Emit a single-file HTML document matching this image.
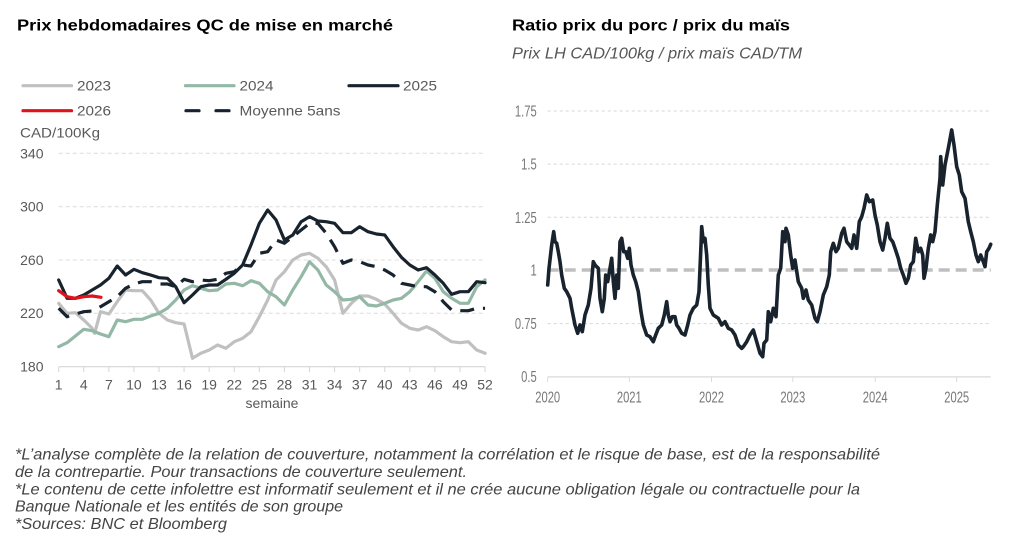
<!DOCTYPE html>
<html><head><meta charset="utf-8"><style>
html,body{margin:0;padding:0;background:#fff;}
svg{display:block;}
text{font-family:"Liberation Sans",Arial,sans-serif;}
</style></head><body>
<svg width="1024" height="560" viewBox="0 0 1024 560" xmlns="http://www.w3.org/2000/svg">
<rect width="1024" height="560" fill="#fff"/>
<!-- Titles -->
<text x="17" y="30.7" font-size="16" font-weight="bold" fill="#000" textLength="376" lengthAdjust="spacingAndGlyphs">Prix hebdomadaires QC de mise en marché</text>
<text x="512" y="30.7" font-size="16" font-weight="bold" fill="#000" textLength="278" lengthAdjust="spacingAndGlyphs">Ratio prix du porc / prix du maïs</text>
<text x="512" y="58.3" font-size="15.5" font-style="italic" fill="#555" textLength="290" lengthAdjust="spacingAndGlyphs">Prix LH CAD/100kg / prix maïs CAD/TM</text>

<!-- Legend -->
<g stroke-width="3.2" stroke-linecap="round">
<line x1="23" y1="85.7" x2="71.5" y2="85.7" stroke="#c0c0c0"/>
<line x1="185.5" y1="85.7" x2="234" y2="85.7" stroke="#94b8a6"/>
<line x1="349" y1="85.7" x2="398" y2="85.7" stroke="#18232e"/>
<line x1="23" y1="110.7" x2="71.5" y2="110.7" stroke="#e0121b"/>
<line x1="186" y1="110.7" x2="199" y2="110.7" stroke="#18232e"/>
<line x1="216" y1="110.7" x2="229" y2="110.7" stroke="#18232e"/>
</g>
<g font-size="14" fill="#595959">
<text x="77" y="90.7" textLength="34" lengthAdjust="spacingAndGlyphs">2023</text>
<text x="239.5" y="90.7" textLength="34" lengthAdjust="spacingAndGlyphs">2024</text>
<text x="403" y="90.7" textLength="34" lengthAdjust="spacingAndGlyphs">2025</text>
<text x="77" y="115.7" textLength="34" lengthAdjust="spacingAndGlyphs">2026</text>
<text x="239.5" y="115.7" textLength="101" lengthAdjust="spacingAndGlyphs">Moyenne 5ans</text>
<text x="20" y="137.5" textLength="80" lengthAdjust="spacingAndGlyphs">CAD/100Kg</text>
</g>

<!-- Left chart grid -->
<g stroke="#dcdcdc" stroke-width="1" stroke-dasharray="4 3">
<line x1="58.7" y1="153.3" x2="485" y2="153.3"/>
<line x1="58.7" y1="206.7" x2="485" y2="206.7"/>
<line x1="58.7" y1="260" x2="485" y2="260"/>
<line x1="58.7" y1="313.3" x2="485" y2="313.3"/>
</g>
<line x1="58.7" y1="366.7" x2="485" y2="366.7" stroke="#d6d6d6" stroke-width="1.2"/>
<g stroke="#d6d6d6" stroke-width="1">
<line x1="58.7" y1="366.7" x2="58.7" y2="372"/><line x1="83.78" y1="366.7" x2="83.78" y2="372"/><line x1="108.86" y1="366.7" x2="108.86" y2="372"/><line x1="133.94" y1="366.7" x2="133.94" y2="372"/><line x1="159.02" y1="366.7" x2="159.02" y2="372"/><line x1="184.1" y1="366.7" x2="184.1" y2="372"/><line x1="209.18" y1="366.7" x2="209.18" y2="372"/><line x1="234.26" y1="366.7" x2="234.26" y2="372"/><line x1="259.34" y1="366.7" x2="259.34" y2="372"/><line x1="284.42" y1="366.7" x2="284.42" y2="372"/><line x1="309.5" y1="366.7" x2="309.5" y2="372"/><line x1="334.58" y1="366.7" x2="334.58" y2="372"/><line x1="359.66" y1="366.7" x2="359.66" y2="372"/><line x1="384.74" y1="366.7" x2="384.74" y2="372"/><line x1="409.82" y1="366.7" x2="409.82" y2="372"/><line x1="434.9" y1="366.7" x2="434.9" y2="372"/><line x1="459.98" y1="366.7" x2="459.98" y2="372"/><line x1="485.06" y1="366.7" x2="485.06" y2="372"/>
</g>
<g font-size="14" fill="#595959" text-anchor="end">
<text x="43.5" y="158.3">340</text>
<text x="43.5" y="211.5">300</text>
<text x="43.5" y="264.8">260</text>
<text x="43.5" y="318.2">220</text>
<text x="43.5" y="371.5">180</text>
</g>
<g font-size="14" fill="#595959" text-anchor="middle">
<text x="58.7" y="389.5">1</text><text x="83.78" y="389.5">4</text><text x="108.86" y="389.5">7</text><text x="133.94" y="389.5">10</text><text x="159.02" y="389.5">13</text><text x="184.1" y="389.5">16</text><text x="209.18" y="389.5">19</text><text x="234.26" y="389.5">22</text><text x="259.34" y="389.5">25</text><text x="284.42" y="389.5">28</text><text x="309.5" y="389.5">31</text><text x="334.58" y="389.5">34</text><text x="359.66" y="389.5">37</text><text x="384.74" y="389.5">40</text><text x="409.82" y="389.5">43</text><text x="434.9" y="389.5">46</text><text x="459.98" y="389.5">49</text><text x="485.06" y="389.5">52</text>
<text x="272" y="408">semaine</text>
</g>

<!-- Left chart series -->
<g fill="none" stroke-width="3.2" stroke-linejoin="round" stroke-linecap="round">
<polyline stroke="#c0c0c0" points="58.7,303.3 67.06,313.3 75.42,312.7 83.78,320 92.14,328.3 94.6,333.3 100.5,311.7 108.86,314 117.22,301.7 125.58,290 133.94,290.7 142.3,290.7 150.66,300 159.02,313.3 167.38,320 175.74,322.7 184.1,324 192.46,358.3 200.82,353.3 209.18,350 217.54,345 225.9,348.3 234.26,341.7 242.62,338.3 250.98,331.7 259.34,316.7 267.7,300 276.06,280 284.42,271.7 292.78,260 301.14,255 309.5,253.3 317.86,258.3 326.22,266.7 334.58,280 342.94,313.3 351.3,303.3 359.66,296 368.02,296 376.38,299.3 384.74,304 393.1,313.3 401.46,323.3 409.82,328.3 418.18,330 426.54,326.7 434.9,330.7 443.26,336.7 451.62,341.7 459.98,342.7 468.34,341.7 476.7,350 485.06,353.3"/>
<polyline stroke="#94b8a6" points="58.7,346.7 67.06,342.7 75.42,336 83.78,329.3 92.14,330.7 100.5,334 108.86,336.7 117.22,320 125.58,321.7 133.94,319.3 142.3,319.3 150.66,316 159.02,313.3 167.38,308.3 175.74,300 184.1,290 192.46,285.7 200.82,288.3 209.18,290.7 217.54,290 225.9,284 234.26,283.3 242.62,285.7 250.98,280.7 259.34,283.3 267.7,291.7 276.06,296.7 284.42,305 292.78,290 301.14,276.7 309.5,261.7 317.86,270 326.22,285 334.58,291.7 342.94,300 351.3,299.3 359.66,296.7 368.02,305 376.38,306 384.74,303.3 393.1,300 401.46,298.3 409.82,291.7 418.18,281.7 426.54,271 434.9,278.3 443.26,291.7 451.62,298.3 459.98,303.3 468.34,303.3 476.7,286.7 485.06,280"/>
<polyline stroke="#18232e" stroke-dasharray="14 9" stroke-linecap="butt" points="58.7,308.3 67.06,316.7 75.42,314 83.78,311.7 92.14,311 100.5,306.7 108.86,301.7 117.22,296.7 125.58,288.3 133.94,284 142.3,281.7 150.66,281.7 159.02,284 167.38,284 175.74,286.7 184.1,279.3 192.46,281.7 200.82,280 209.18,280.7 217.54,279.3 225.9,273.3 234.26,271.7 242.62,265 250.98,266 259.34,253.3 267.7,251.7 276.06,240 284.42,243.3 292.78,236.7 301.14,230 309.5,223.3 317.86,223.3 326.22,233.3 334.58,246.7 342.94,263.3 351.3,260 359.66,261.7 368.02,265 376.38,266.7 384.74,270 393.1,275 401.46,283.3 409.82,285 418.18,286.7 426.54,286.7 434.9,291.7 443.26,301.7 451.62,310 459.98,310.7 468.34,310.7 476.7,308.3 485.06,308.3"/>
<polyline stroke="#18232e" points="58.7,280 67.06,298.3 75.42,298.3 83.78,295 92.14,290 100.5,285 108.86,278.3 117.22,266 125.58,275 133.94,269.3 142.3,272.7 150.66,275 159.02,277.7 167.38,278.3 175.74,286.7 184.1,302.7 192.46,295 200.82,286.7 209.18,285 217.54,285 225.9,279.3 234.26,273.3 242.62,265 250.98,245 259.34,223.3 267.7,210 276.06,220 284.42,240 292.78,235 301.14,221.7 309.5,216.7 317.86,221 326.22,221.7 334.58,223.3 342.94,232.7 351.3,232.7 359.66,226.7 368.02,231.7 376.38,234 384.74,235 393.1,246.7 401.46,257.3 409.82,265 418.18,270 426.54,267.7 434.9,275 443.26,283.3 451.62,294.3 459.98,291.7 468.34,291.7 476.7,281.7 485.06,282.7"/>
<polyline stroke="#e0121b" points="58.7,290.7 67.06,296.7 75.42,298.3 83.78,296.7 92.14,296 101,297.3"/>
</g>

<!-- Right chart grid -->
<g stroke="#d6d6d6" stroke-width="1" stroke-dasharray="3 3">
<line x1="547.7" y1="111" x2="990.7" y2="111"/>
<line x1="547.7" y1="164.1" x2="990.7" y2="164.1"/>
<line x1="547.7" y1="217.3" x2="990.7" y2="217.3"/>
<line x1="547.7" y1="323.6" x2="990.7" y2="323.6"/>
</g>
<line x1="547.7" y1="376.9" x2="990.7" y2="376.9" stroke="#dadada" stroke-width="1.2"/>
<g stroke="#dadada" stroke-width="1">
<line x1="547.7" y1="376.9" x2="547.7" y2="382"/><line x1="629.3" y1="376.9" x2="629.3" y2="382"/><line x1="711.5" y1="376.9" x2="711.5" y2="382"/><line x1="792.8" y1="376.9" x2="792.8" y2="382"/><line x1="875.2" y1="376.9" x2="875.2" y2="382"/><line x1="956.7" y1="376.9" x2="956.7" y2="382"/>
</g>
<line x1="547.7" y1="270" x2="990.7" y2="270" stroke="#bfbfbf" stroke-width="3.6" stroke-dasharray="11 6"/>
<g font-size="16" fill="#777" text-anchor="end">
<text transform="translate(536.7,116.5) scale(0.7,1)">1.75</text>
<text transform="translate(536.7,169.6) scale(0.7,1)">1.5</text>
<text transform="translate(536.7,222.8) scale(0.7,1)">1.25</text>
<text transform="translate(536.7,275.5) scale(0.7,1)">1</text>
<text transform="translate(536.7,329.1) scale(0.7,1)">0.75</text>
<text transform="translate(536.7,382) scale(0.7,1)">0.5</text>
</g>
<g font-size="16" fill="#777" text-anchor="middle">
<text transform="translate(547.7,402.7) scale(0.7,1)">2020</text>
<text transform="translate(629.3,402.7) scale(0.7,1)">2021</text>
<text transform="translate(711.5,402.7) scale(0.7,1)">2022</text>
<text transform="translate(792.8,402.7) scale(0.7,1)">2023</text>
<text transform="translate(875.2,402.7) scale(0.7,1)">2024</text>
<text transform="translate(956.7,402.7) scale(0.7,1)">2025</text>
</g>
<polyline fill="none" stroke="#18232e" stroke-width="3.6" stroke-linejoin="round" stroke-linecap="round" points="547.7,285 549,268.3 551.7,245 553.7,231.7 555,241.7 556.7,243.3 558.3,251.7 560,261.7 561.7,275 564.3,288.3 566.7,291.7 570,298.3 571.7,308.3 575,325 577.7,333.3 580,325 582.3,331.7 585,315 588.3,305 591,288.3 593.3,261.7 595,265 598.3,268.3 600,298.3 602.3,311.7 604.3,298.3 605.7,275 607.7,281.7 610,268.3 611.7,258.3 613.3,281.7 615,298.3 616.7,275 618.3,288.3 620,241.7 621.7,238.3 623.7,251.7 625.7,251.7 627.7,258.3 629.3,248.3 631,265 633.3,275 635.7,281.7 638.3,291.7 641,311.7 643.3,325 646.7,335 650,336.7 653.3,341.7 655.7,335 658.3,328.3 661.7,325 664.3,315 666.7,301.7 668.3,315 670,321.7 672.3,316.7 675,316.7 676.7,325 679,328.3 681.7,333.3 685,335 687.7,325 690,315 693.3,308.3 696.7,305 699,291.7 701,245 701.7,226.7 703.3,241.7 705,238.3 706.7,255 708.3,285 710,308.3 713.3,315 718.3,318.3 721.7,325 725,321.7 728.3,328.3 731.7,330 735,335 738.3,345 741.7,348.3 743.3,346.7 746.7,341.7 750,335 753.3,330 756.7,341.7 760,353.3 762.7,356.7 764,343.3 766.7,340 768.3,311.7 770.7,321.7 773.3,308.3 776,316.7 778.3,275 780.7,268.3 782.7,231.7 785,241.7 786,228.3 788.3,235 790.7,255 792.7,268.3 795,260 798.3,281.7 801.7,288.3 803.3,298.3 806,290 808.3,300 811.7,305 815,318.3 817.3,321.7 820,311.7 823.3,295 826.7,286.7 829.3,275 830.7,251.7 833.3,243.3 836,251.7 838.3,248.3 841.7,233.3 844,228.3 846.7,241.7 849.3,245 851.7,248.3 854,235 856.7,248.3 859.3,221.7 861.7,216.7 864,208.3 866.7,195 869.3,201.7 872.7,200 875,215 877.3,225 880,241.7 882.7,250 885,238.3 887.3,223.3 890,238.3 892.7,241.7 895,248.3 898.3,258.3 900.7,268.3 903.3,275 906,283.3 908.3,278.3 910.7,265 913.3,261.7 915.7,238.3 918.3,251.7 920.7,248.3 922.7,255 924,278.3 926,268.3 928.3,248.3 930.7,235 932.7,241.7 935,231.7 937.3,205 940,178.3 940.7,156.7 942.7,185 945,165 948.3,148.3 951.7,130 954,145 956.7,166.7 959.3,175 961.7,191.7 965,198.3 968.3,221.7 970.7,231.7 973.3,241.7 976,255 978.3,261.7 980.7,255 983.3,261.7 985,266.7 986.7,251.7 989,248.3 990.7,244.3"/>

<!-- Footnotes -->
<g font-size="16" font-style="italic" fill="#444">
<text x="15" y="459.5" textLength="865" lengthAdjust="spacingAndGlyphs">*L’analyse complète de la relation de couverture, notamment la corrélation et le risque de base, est de la responsabilité</text>
<text x="15" y="477" textLength="452" lengthAdjust="spacingAndGlyphs">de la contrepartie. Pour transactions de couverture seulement.</text>
<text x="15" y="494.3" textLength="845" lengthAdjust="spacingAndGlyphs">*Le contenu de cette infolettre est informatif seulement et il ne crée aucune obligation légale ou contractuelle pour la</text>
<text x="15" y="511.6" textLength="328" lengthAdjust="spacingAndGlyphs">Banque Nationale et les entités de son groupe</text>
<text x="15" y="529" textLength="212" lengthAdjust="spacingAndGlyphs">*Sources: BNC et Bloomberg</text>
</g>
</svg>
</body></html>
